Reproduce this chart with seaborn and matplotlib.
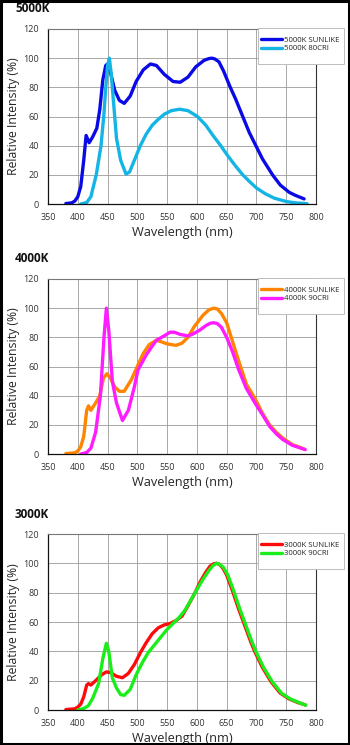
import pandas as pd
import seaborn as sns
import matplotlib.pyplot as plt
from matplotlib.ticker import MultipleLocator

# ---- 5000K panel ----
wl_5000_sun = [380, 390, 395, 400, 405, 410, 414, 419, 425, 432, 437, 442, 447, 450, 455, 462, 470,
               478, 488, 498, 510, 522, 532, 545, 560, 572, 585, 598, 612, 620, 625, 630, 637, 645, 655,
               665, 677, 688, 699, 710, 727, 740, 755, 765, 780]
val_5000_sun = [0.3, 0.8, 2, 5, 12, 30, 47, 42, 46, 52, 65, 85, 95, 96, 90, 78, 71,
                69, 74, 84, 92, 96, 95, 89, 84, 83.5, 87, 94, 98.5, 99.7, 100, 99.5, 97.5, 91, 81,
                72, 60, 49, 40, 31, 20, 13, 8, 6, 3.5]
wl_5000_cri = [405, 415, 422, 431, 439, 444, 447, 450, 453, 456, 460, 465, 472, 481, 487, 495,
               505, 515, 525, 535, 545, 557, 571, 585, 601, 615, 627, 640, 652, 665, 677,
               688, 700, 715, 730, 750, 765, 785]
val_5000_cri = [0, 1, 5, 20, 40, 62, 80, 95, 100, 90, 70, 45, 30, 20.5, 22, 30,
                40, 48, 54, 58, 61.5, 64, 65, 64, 60, 54, 47, 40, 33, 26, 20,
                15.5, 11, 7, 4, 1.7, 0.8, 0.2]

# ---- 4000K panel ----
wl_4000_sun = [380, 395, 400, 405, 410, 415, 418, 422, 430, 437, 443, 449, 455, 462, 470, 478,
               490, 501, 510, 520, 532, 540, 550, 565, 575, 585, 595, 610, 620, 628, 634, 641,
               650, 660, 670, 683, 699, 710, 722, 733, 744, 760, 780]
val_4000_sun = [0.3, 0.8, 2, 5, 12, 30, 33, 30, 35, 40, 52, 55, 52, 46, 43, 43,
                51, 61, 69, 75, 78, 77, 75.5, 74.5, 76, 80, 87, 95, 98.8, 100, 99.5, 96.5,
                90, 77, 64, 48, 37, 28, 20, 15, 11, 6.5, 3.5]
wl_4000_cri = [405, 415, 422, 430, 438, 444, 448, 452, 458, 465, 475, 485, 495, 501, 515,
               525, 532, 545, 555, 562, 572, 585, 592, 605, 615, 622, 628, 634, 641, 650, 660, 670,
               683, 699, 710, 722, 733, 744, 760, 782]
val_4000_cri = [0, 1, 4, 15, 40, 80, 100, 85, 50, 35, 23, 30, 46, 57.5, 68,
                74, 78, 81, 83.5, 83.5, 82, 81, 82, 85, 88, 89.6, 90, 89.5, 87, 80, 70, 58,
                45, 34, 27, 19, 14, 10, 6, 3]

# ---- 3000K panel ----
wl_3000_sun = [380, 395, 400, 405, 410, 415, 418, 422, 430, 440, 448, 455, 465, 475, 485, 495,
               505, 515, 525, 535, 545, 555, 565, 575, 585, 597, 605, 615, 622, 628, 633, 638, 644,
               650, 660, 670, 680, 690, 697, 710, 725, 740, 755, 770, 782]
val_3000_sun = [0.3, 0.8, 2, 4, 9, 17, 18, 17, 20, 24, 26, 25.5, 23, 22, 25, 31,
                39, 46, 52, 56, 58, 59, 61, 64, 71, 80, 87, 94, 98, 99.7, 100, 99.3, 96.5,
                92, 81, 69, 58, 47, 40, 29, 19, 11.5, 7.5, 5, 3.5]
wl_3000_cri = [400, 410, 418, 425, 435, 442, 448, 452, 458, 465, 472, 478, 488, 498, 508, 518,
               530, 540, 550, 560, 570, 580, 590, 600, 610, 620, 627, 633, 638, 645,
               652, 662, 672, 682, 692, 699, 712, 727, 742, 757, 772, 783]
val_3000_cri = [0, 1, 3, 8, 18, 35, 45.5, 40, 22, 15, 10.5, 10, 14, 24, 32, 39,
                45, 50, 55, 59, 63, 68, 75, 82, 89, 95, 98.5, 100, 99.4, 97,
                92, 81, 69, 58, 47, 40, 29, 19, 11.5, 7.5, 5, 3.2]

panels = [
    ("5000K", [("5000K SUNLIKE", wl_5000_sun, val_5000_sun, "#0a0ae6"),
               ("5000K 80CRI", wl_5000_cri, val_5000_cri, "#14b4e4")]),
    ("4000K", [("4000K SUNLIKE", wl_4000_sun, val_4000_sun, "#ff8400"),
               ("4000K 90CRI", wl_4000_cri, val_4000_cri, "#ff1cff")]),
    ("3000K", [("3000K SUNLIKE", wl_3000_sun, val_3000_sun, "#ff0a0a"),
               ("3000K 90CRI", wl_3000_cri, val_3000_cri, "#1aee1a")]),
]

sns.set_style("white")
plt.rcParams['font.family'] = ['Open Sans', 'DejaVu Sans']

W, H = 350, 745
fig = plt.figure(figsize=(W / 100, H / 100), dpi=100)

# panel boxes in pixels: (left, top, right, bottom), plus title y
boxes = [(48, 29, 316, 204, 8),
         (48, 279, 316, 454, 258),
         (48, 534, 316, 710, 515)]

for (title, series), (l, t, r, b, ty) in zip(panels, boxes):
    ax = fig.add_axes((l / W, 1 - b / H, (r - l) / W, (b - t) / H))
    rows = []
    for name, xs, ys, col in series:
        for x, y in zip(xs, ys):
            rows.append({"wl": x, "val": y, "series": name})
    df = pd.DataFrame(rows)
    palette = {name: col for name, xs, ys, col in series}
    sns.lineplot(data=df, x="wl", y="val", hue="series", palette=palette,
                 linewidth=2.4, sort=True, ax=ax, legend=True,
                 solid_joinstyle="round", solid_capstyle="round")

    ax.set_xlim(350, 800)
    ax.set_ylim(0, 120)
    ax.xaxis.set_major_locator(MultipleLocator(50))
    ax.xaxis.set_minor_locator(MultipleLocator(25))
    ax.yaxis.set_major_locator(MultipleLocator(20))
    ax.yaxis.set_minor_locator(MultipleLocator(10))
    ax.grid(True, which="major", color="#9a9a9a", linewidth=0.6)
    ax.set_axisbelow(True)
    ax.tick_params(axis="both", which="major", labelsize=6.5, length=3, width=0.7,
                   direction="inout", colors="#222222", pad=5)
    ax.tick_params(axis="both", which="minor", length=2, width=0.6, direction="inout",
                   colors="#222222")
    ax.tick_params(axis="both", labelcolor="#333333")
    for side in ["left", "bottom"]:
        ax.spines[side].set_color("#111111")
        ax.spines[side].set_linewidth(0.9)
    ax.spines["top"].set_color("#777777")
    ax.spines["top"].set_linewidth(0.8)
    ax.spines["right"].set_color("#333333")
    ax.spines["right"].set_linewidth(0.8)

    ax.set_xlabel("Wavelength (nm)", fontsize=9.2, labelpad=3)
    ax.set_ylabel("Relative Intensity (%)", fontsize=8.8, labelpad=2)

    # legend frame, drawn as its own box that pokes past the right spine
    frame = plt.Rectangle((258 / W, 1 - (t + 35) / H), 86 / W, 36 / H,
                          transform=fig.transFigure, facecolor="white",
                          edgecolor="#bdbdbd", linewidth=0.7, zorder=4.5,
                          clip_on=False)
    ax.add_artist(frame)
    leg = ax.legend(loc="upper left", bbox_to_anchor=(259 / W, 1 - (t + 5) / H),
                    bbox_transform=fig.transFigure, fontsize=5.6, frameon=False,
                    handlelength=2.6, handletextpad=0.25, borderpad=0.3,
                    labelspacing=0.15, borderaxespad=0)
    leg.set_zorder(6)
    for line in leg.get_lines():
        line.set_linewidth(2.4)

    fig.text(15 / W, 1 - ty / H, title, fontsize=8.5, fontweight="bold",
             ha="left", va="center", color="#111111")

# black frame around the whole image
border = plt.Rectangle((0.002, 0.002), 0.995, 0.996, transform=fig.transFigure,
                       fill=False, edgecolor="black", linewidth=2.2)
fig.patches.append(border)

fig.savefig("out.png", dpi=100)
